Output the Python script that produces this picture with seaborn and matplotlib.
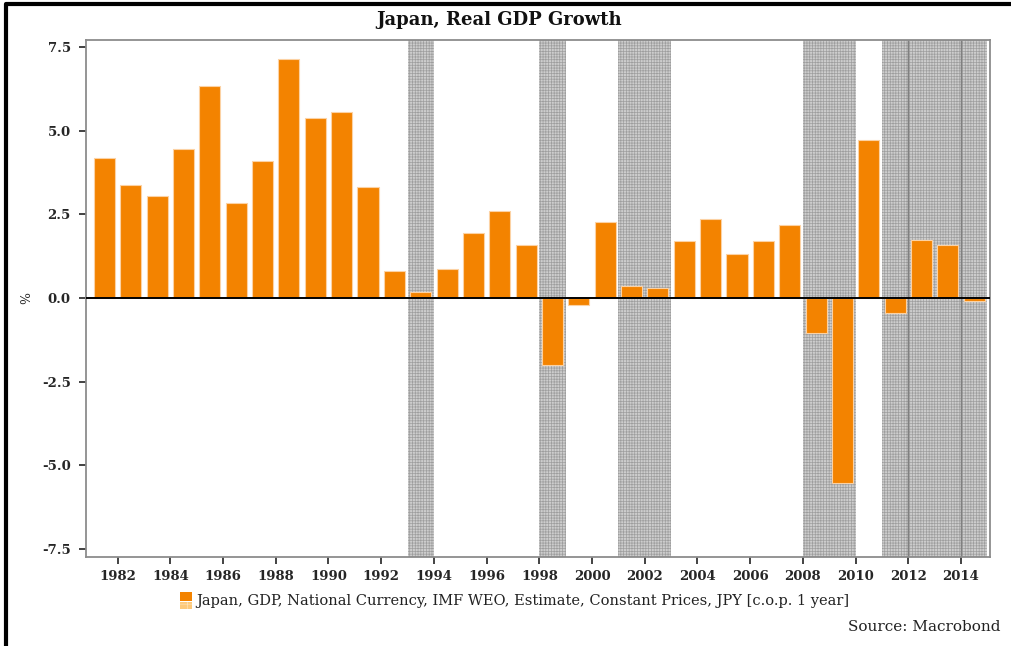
import matplotlib
matplotlib.use("Agg")
import matplotlib.pyplot as plt
import matplotlib.patches as mpatches
from matplotlib.lines import Line2D
import seaborn as sns
import numpy as np
import pandas as pd

# annual real GDP growth, % (bars drawn across each calendar year)
years = list(range(1981, 2015))
gdp_growth = [4.18, 3.38, 3.05, 4.45, 6.33, 2.83, 4.10, 7.14, 5.37, 5.57,
              3.32, 0.82, 0.17, 0.86, 1.94, 2.60, 1.58, -2.00, -0.20, 2.26,
              0.36, 0.29, 1.69, 2.36, 1.30, 1.69, 2.19, -1.04, -5.53, 4.72,
              -0.45, 1.74, 1.58, -0.10]

# shaded periods
shade_start = [1993, 1998, 2001, 2008, 2011]
shade_end = [1994, 1999, 2003, 2010, 2015]
shade_lines = [2012, 2014]

yticks = [-7.5, -5.0, -2.5, 0.0, 2.5, 5.0, 7.5]
xticks = list(range(1982, 2016, 2))

title = "Japan, Real GDP Growth"
legend_label = "Japan, GDP, National Currency, IMF WEO, Estimate, Constant Prices, JPY [c.o.p. 1 year]"
source = "Source: Macrobond"

orange = "#f38300"

sns.set_style("white")
plt.rcParams["font.family"] = ["DejaVu Serif"]
plt.rcParams["axes.unicode_minus"] = False
plt.rcParams["hatch.linewidth"] = 0.5
plt.rcParams["hatch.color"] = "#9e9e9e"

df = pd.DataFrame({"x": np.array(years) + 0.5, "growth": gdp_growth})

fig = plt.figure(figsize=(10.11, 6.46), dpi=100)
ax = fig.add_axes([86 / 1011, 1 - 557 / 646, (990 - 86) / 1011, (557 - 40) / 646])

for s, e in zip(shade_start, shade_end):
    ax.axvspan(s, e, facecolor="#cdcdcd", edgecolor="#9e9e9e", hatch="++++++",
               lw=0, zorder=0)
for x in shade_lines:
    ax.axvline(x, color="#808080", lw=1.0, zorder=0.5)

sns.barplot(data=df, x="x", y="growth", native_scale=True, width=0.8,
            color=orange, saturation=1, edgecolor="#fcd2a4", linewidth=0.8,
            ax=ax, zorder=2)

ax.axhline(0, color="black", lw=1.4, zorder=3)

ax.set_xlim(1980.8, 2015.1)
ax.set_ylim(-7.74, 7.71)
ax.set_xticks(xticks)
ax.set_xticklabels([str(t) for t in xticks], fontweight="bold", fontsize=9.5)
ax.set_yticks(yticks)
ax.set_yticklabels([f"{t:.1f}" for t in yticks], fontweight="bold", fontsize=9.5)
ax.tick_params(axis="both", direction="out", length=5, width=1.2,
               color="#222222", pad=4, left=True, bottom=True)
ax.tick_params(axis="y", pad=6)
ax.set_xlabel("")
ax.set_ylabel("%", fontsize=9, labelpad=6)

for sp in ax.spines.values():
    sp.set_visible(True)
    sp.set_color("#8c8c8c")
    sp.set_linewidth(1.3)

W, H = 1011, 646
fig.text(499 / W, 1 - 20 / H, title, fontweight="bold", fontsize=13,
         ha="center", va="center", color="#111111")

# legend built by hand: solid square over a hatched lighter square
fig.patches.append(mpatches.Rectangle((180 / W, 1 - 601 / H), 12 / W, 9 / H,
                                      transform=fig.transFigure, facecolor=orange,
                                      edgecolor="none"))
fig.patches.append(mpatches.Rectangle((180 / W, 1 - 609 / H), 12 / W, 7 / H,
                                      transform=fig.transFigure, facecolor="#fdc97a",
                                      edgecolor="#fde1b5", hatch="++", lw=0))
fig.text(196 / W, 1 - 601 / H, legend_label, fontsize=10.5, va="center", ha="left",
         color="#222222")
fig.text(1001 / W, 1 - 627 / H, source, fontsize=11, va="center", ha="right",
         color="#222222")

# outer frame (left and top)
fig.add_artist(Line2D([6 / W, 6 / W, 1.0], [0.0, 1 - 4 / H, 1 - 4 / H],
                      transform=fig.transFigure, color="black", lw=3))

fig.savefig("out.png", dpi=100)
